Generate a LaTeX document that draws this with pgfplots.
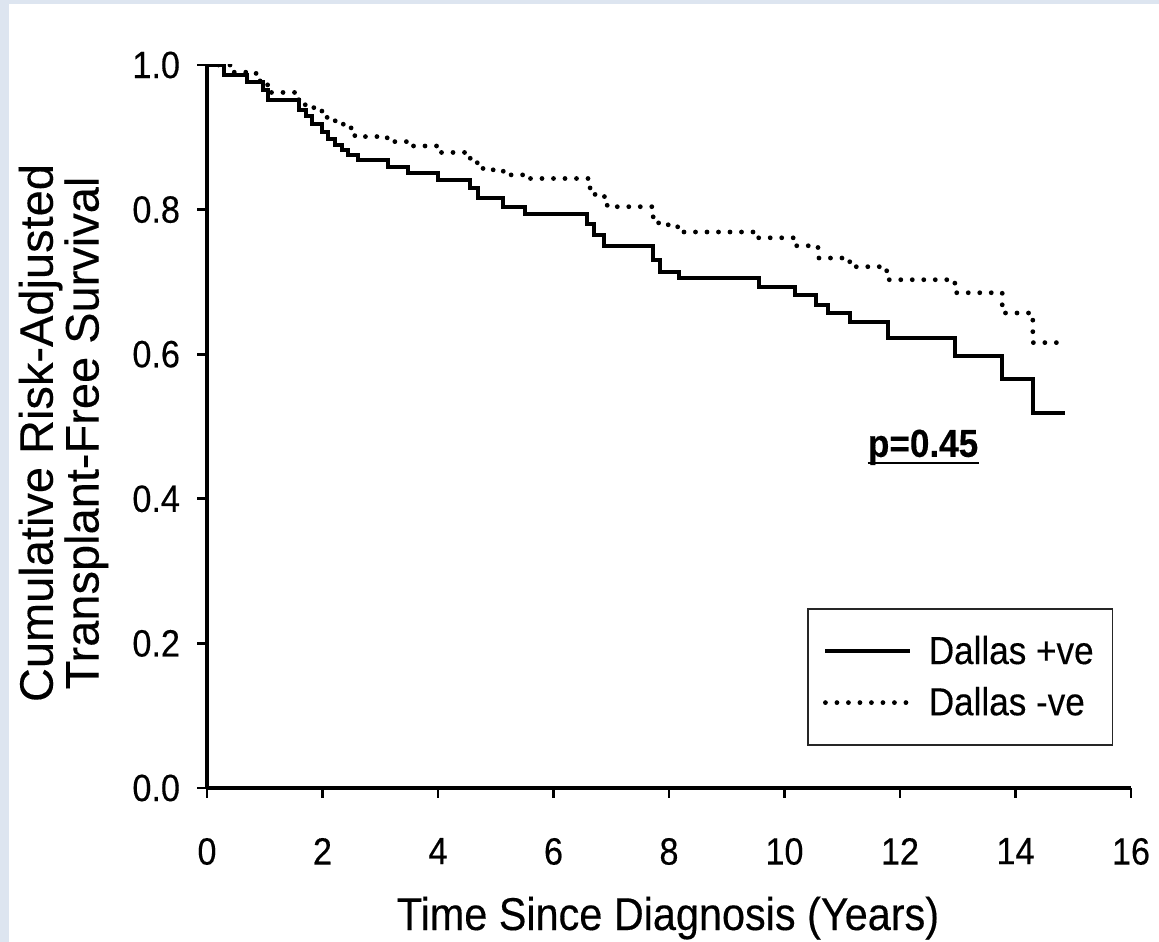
\documentclass[border=0pt]{standalone}
\usepackage{fontspec}
\setmainfont{Liberation Sans}[FakeStretch=0.9,FakeBold=0.3]
\newfontfamily\yfont{Liberation Sans}[FakeBold=0.2]
\usepackage{pgfplots}
\pgfplotsset{compat=1.18}
\definecolor{bgblue}{RGB}{221,229,240}

\pgfplotstableread{
t v
0 1.0
0.30 0.986
0.69 0.977
0.97 0.965
1.05 0.952
1.60 0.938
1.72 0.929
1.82 0.918
1.99 0.908
2.10 0.897
2.22 0.890
2.34 0.883
2.44 0.876
2.61 0.869
3.13 0.859
3.48 0.851
4.00 0.841
4.55 0.830
4.70 0.816
5.12 0.804
5.50 0.794
6.58 0.780
6.70 0.765
6.88 0.749
7.72 0.730
7.85 0.714
8.18 0.705
9.56 0.693
10.18 0.682
10.55 0.668
10.75 0.657
11.13 0.645
11.79 0.622
12.95 0.597
13.77 0.566
14.30 0.518
14.85 0.518
}\pos

\pgfplotstableread{
t v
0 1.0
0.45 0.990
0.85 0.978
1.05 0.962
1.58 0.952
1.70 0.945
1.85 0.938
1.99 0.931
2.08 0.926
2.22 0.920
2.36 0.913
2.56 0.901
3.12 0.894
3.48 0.888
4.00 0.879
4.55 0.871
4.68 0.862
4.78 0.855
5.13 0.848
5.50 0.843
6.62 0.830
6.72 0.818
6.93 0.804
7.72 0.790
7.82 0.779
8.15 0.769
9.54 0.761
10.15 0.750
10.58 0.733
11.13 0.721
11.77 0.703
12.95 0.685
13.77 0.657
14.30 0.616
14.74 0.616
}\negt

\begin{document}
\begin{tikzpicture}
\path[use as bounding box] (0,0) rectangle (579.5bp,471bp);
\fill[bgblue] (0,0) rectangle (579.5bp,471bp);
\fill[white] (4.5bp,0) rectangle (579.5bp,469bp);
\begin{axis}[
  at={(103.5bp,77bp)}, anchor=south west,
  scale only axis, width=462bp, height=361.5bp,
  xmin=0, xmax=16, ymin=0, ymax=1,
  axis x line*=bottom, axis y line*=left,
  axis line style={line width=1.7bp,-},
  xtick={0,2,...,16}, ytick={0,0.2,0.4,0.6,0.8,1.0},
  tick align=outside, major tick length=5bp,
  every tick/.style={black,line width=1.4bp},
  tick label style={font=\fontsize{19bp}{22bp}\selectfont},
  /pgf/number format/assume math mode=true,
  xticklabel style={yshift=-16.5bp},
  yticklabel style={xshift=-5bp,/pgf/number format/fixed,/pgf/number format/fixed zerofill,/pgf/number format/precision=1},
  legend style={at={(0.981,0.249)}, anchor=north east, draw=black!85, line width=0.8bp,
    font=\fontsize{19.5bp}{22bp}\selectfont, inner xsep=7.5bp, inner ysep=11.5bp, row sep=6bp,
    cells={anchor=west}},
  legend image code/.code={\draw[#1] (0bp,0bp) -- (42.5bp,0bp); \path (48.5bp,0bp);},
]
\addplot[const plot, black, line width=2bp] table[x=t,y=v] {\pos};
\addlegendentry{Dallas +ve}
\addplot[const plot, black, line width=2.4bp, line cap=round, dash pattern=on 0bp off 5.75bp] table[x=t,y=v] {\negt};
\addlegendentry{Dallas -ve}
\node[anchor=base, inner sep=0pt, font=\bfseries\fontsize{19.5bp}{21bp}\selectfont] (p) at (axis cs:12.4,0.458) {p=0.45};
\draw[line width=1.2bp] ([yshift=-3bp]p.base west) -- ([yshift=-3bp]p.base east);
\end{axis}
\node[anchor=base, font=\fontsize{23bp}{26bp}\selectfont] at (334bp,6bp) {Time Since Diagnosis (Years)};
\node[rotate=90, align=center, font=\yfont\fontsize{23.5bp}{21.5bp}\selectfont] at (31.75bp,254.5bp) {Cumulative Risk-Adjusted\\Transplant-Free Survival};
\end{tikzpicture}
\end{document}
